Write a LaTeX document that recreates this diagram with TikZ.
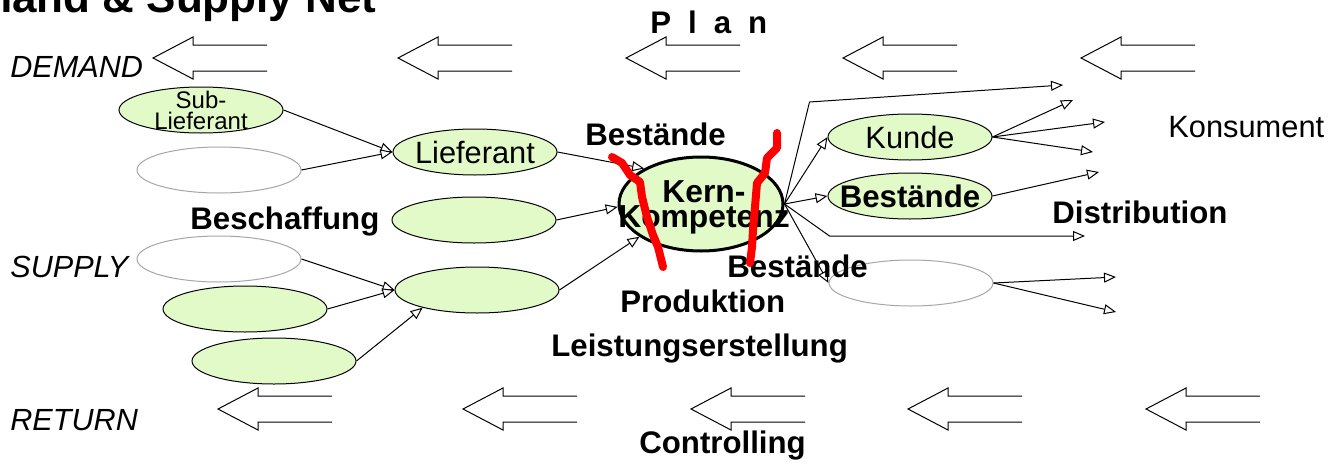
\documentclass[tikz,border=0pt]{standalone}
\usepackage{fontspec}
\setmainfont{Liberation Sans}
\usetikzlibrary{arrows.meta,shapes.geometric}
\definecolor{partygreen}{RGB}{225,250,200}
\def\hollowarrow(#1,#2){\draw[line width=0.5pt] (#1+114,#2-13) -- (#1+40,#2-13) -- (#1+40,#2-21) -- (#1,#2) -- (#1+40,#2+21) -- (#1+40,#2+13) -- (#1+114,#2+13);}
\tikzset{
  party/.style={ellipse, draw, fill=partygreen, line width=0.5pt, minimum width=82pt, minimum height=23pt, inner sep=0pt},
  emptyparty/.style={ellipse, draw=gray!70, fill=white, line width=0.5pt, minimum width=82pt, minimum height=23pt, inner sep=0pt},
  flow/.style={-{Triangle[open, fill=white, length=6pt, width=5pt]}, line width=0.5pt},
  tagbold/.style={font=\bfseries\fontsize{15.6}{18}\selectfont, inner sep=0pt},
  tagital/.style={font=\itshape\fontsize{15.3}{18}\selectfont, inner sep=0pt},
  tagplain/.style={font=\fontsize{15.4}{18}\selectfont, inner sep=0pt},
  cutline/.style={red, line width=4pt, line join=round, line cap=round}
}

\begin{document}
\begin{tikzpicture}[x=0.5pt,y=-0.5pt]
			\path[use as bounding box, fill=white] (0,0) rectangle (1343,466);
			
			%%%%% TITLE AND ROW LABELS %%%%%
			\node[anchor=base east, font=\bfseries\fontsize{22}{26}\selectfont, inner sep=0pt] (title) at (377,12) {Demand \& Supply Net};
			\node[tagbold, anchor=base west] (plan) at (650,33) {P\hspace{8.5pt}l\hspace{8.5pt}a\hspace{8.5pt}n};
			\node[tagital, anchor=base west] (demand) at (10,77) {DEMAND};
			\node[tagital, anchor=base west] (supply) at (10,277) {SUPPLY};
			\node[tagital, anchor=base west] (return) at (10,430) {RETURN};
			
			%%%%% BIG FLOW ARROWS %%%%%
			\hollowarrow(153,58)
			\hollowarrow(398,58)
			\hollowarrow(626,58)
			\hollowarrow(843,58)
			\hollowarrow(1081,58)
			
			\hollowarrow(218,409)
			\hollowarrow(463,409)
			\hollowarrow(691,409)
			\hollowarrow(908,409)
			\hollowarrow(1146,409)
			
			%%%%% PARTNERS %%%%%
			\node[party] (sub) at (201,110) {};
			\node[font=\fontsize{12}{10.5}\selectfont, align=center, inner sep=0pt] (subtext) at (sub) {Sub-\\Lieferant};
			\node[emptyparty] (leer1) at (219,170) {};
			\node[party] (lief) at (475,152) {};
			\node[tagplain] (lieftext) at (lief) {Lieferant};
			\node[party] (prod1) at (474,220) {};
			
			\node[emptyparty] (leer2) at (219,259) {};
			\node[party] (zul1) at (245,309) {};
			\node[party] (zul2) at (274,361) {};
			\node[party] (prod2) at (477,290) {};
			
			\node[ellipse, draw, fill=partygreen, line width=1.5pt, minimum width=82pt, minimum height=47pt, inner sep=0pt] (kern) at (701,204) {};
			
			\node[party] (kunde) at (910,137) {};
			\node[tagplain] (kundetext) at (kunde) {Kunde};
			\node[party] (lager) at (910,196) {};
			\node[tagbold] (lagertext) at (lager) {Bestände};
			\node[emptyparty] (leer3) at (911,283) {};
			
			%%%%% FREE ENDS %%%%%
			\coordinate (k0) at (1063,85);
			\coordinate (k1) at (1073,100);
			\coordinate (k2) at (1105,122);
			\coordinate (k3) at (1093,152);
			\coordinate (k4) at (1099,172);
			\coordinate (k5) at (1085,236);
			\coordinate (k6) at (1116,277);
			\coordinate (k7) at (1116,312);
			
			%%%%% CONNECTORS %%%%%
			\draw[flow] (sub.east) -- (lief.west);
			\draw[flow] (leer1.east) -- (lief.west);
			\draw[flow] (lief.east) -- (kern.148);
			\draw[flow] (prod1.east) -- (kern.182);
			\draw[flow] (prod2.east) -- (kern.208);
			\draw[flow] (leer2.east) -- (prod2.west);
			\draw[flow] (zul1.east) -- (prod2.west);
			\draw[flow] (zul2.east) -- (prod2.198);
			
			\draw[flow] (kern.east) -- ++(25,-102) -- (k0);
			\draw[flow] (kern.east) -- (kunde.west);
			\draw[flow] (kern.east) -- (lager.west);
			\draw[flow] (kern.east) -- ++(45,32) -- (k5);
			\draw[flow] (kern.east) -- (leer3.west);
			\draw[flow] (kunde.east) -- (k1);
			\draw[flow] (kunde.east) -- (k2);
			\draw[flow] (kunde.east) -- (k3);
			\draw[flow] (lager.east) -- (k4);
			\draw[flow] (leer3.east) -- (k6);
			\draw[flow] (leer3.east) -- (k7);
			
			%%%%% AREA LABELS %%%%%
			\node[tagbold, anchor=base west] (bestin) at (585,145) {Bestände};
			\node[tagbold, anchor=base west] (beschaffung) at (190,229) {Beschaffung};
			\node[font=\bfseries\fontsize{15.9}{12.5}\selectfont, align=center, inner sep=0pt] (kerntext) at (704,207) {Kern-\\Kompetenz};
			\node[tagbold, anchor=base west] (bestout) at (727,277) {Bestände};
			\node[tagbold, anchor=base west] (produktion) at (620,312) {Produktion};
			\node[tagbold, anchor=base west] (leistung) at (551,356) {Leistungserstellung};
			\node[tagbold, anchor=base west] (distribution) at (1052,223) {Distribution};
			\node[tagplain, anchor=base west] (konsument) at (1168,137) {Konsument};
			\node[tagbold, anchor=base west] (controlling) at (639,453) {Controlling};
			
			%%%%% CUTS %%%%%
			\draw[cutline] (612,157) -- (622,163) -- (630,175) -- (640,182) -- (642,197) -- (647,217) -- (653,235) -- (658,247) -- (663,267);
			\draw[cutline] (777,133) -- (777,148) -- (767,158) -- (765,173) -- (757,183) -- (755,207) -- (753,230) -- (752,247) -- (750,263);
		\end{tikzpicture}
\end{document}
